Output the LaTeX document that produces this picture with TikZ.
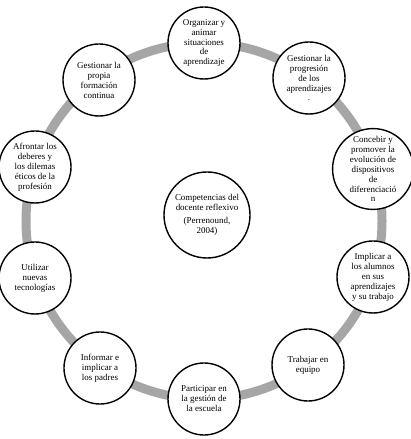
\documentclass[tikz,border=0pt]{standalone}
\usepackage{fontspec}
\setmainfont{Liberation Serif}
\usetikzlibrary{positioning}

\definecolor{grisanillo}{RGB}{166,166,166}
\tikzset{
  competencia/.style={circle, draw=black, line width=1.4pt, fill=white,
    minimum size=72bp, inner sep=0pt, align=center,
    font=\fontsize{9}{10}\selectfont},
  nucleo/.style={competencia, minimum size=86bp}
}

\begin{document}
\begin{tikzpicture}[x=1bp,y=1bp]
	\useasboundingbox (0,0) rectangle (410,439);

%anillo
	\coordinate (centro) at (204,218);
	\draw[grisanillo, line width=9bp] (centro) circle (178);

%competencias
	\node[competencia] (organizar) at (204,396) {Organizar y\\animar\\situaciones\\de\\aprendizaje};
	\node[competencia] (progresion) at (309,361) {Gestionar la\\progresión\\de los\\aprendizajes\\.};
	\node[competencia] (concebir) at (373,270) {Concebir y\\promover la\\evolución de\\dispositivos\\de\\diferenciació\\n};
	\node[competencia] (implicar) at (373,162) {Implicar a\\los alumnos\\en sus\\aprendizajes\\y su trabajo};
	\node[competencia] (equipo) at (308,74) {Trabajar en\\equipo};
	\node[competencia] (escuela) at (204,40) {Participar en\\la gestión de\\la escuela};
	\node[competencia] (padres) at (100,71) {Informar e\\implicar a\\los padres};
	\node[competencia] (tecnologias) at (35,161) {Utilizar\\nuevas\\tecnologías};
	\node[competencia] (etica) at (35,272) {Afrontar los\\deberes y\\los dilemas\\éticos de la\\profesión};
	\node[competencia] (formacion) at (99,359) {Gestionar la\\propia\\formación\\continua};

%centro
	\node[nucleo] (docente) at (207,224) {\raisebox{-6bp}{\begin{tabular}{@{}c@{}}Competencias del\\docente reflexivo\\[3bp](Perrenound,\\2004)\end{tabular}}};
\end{tikzpicture}
\end{document}
